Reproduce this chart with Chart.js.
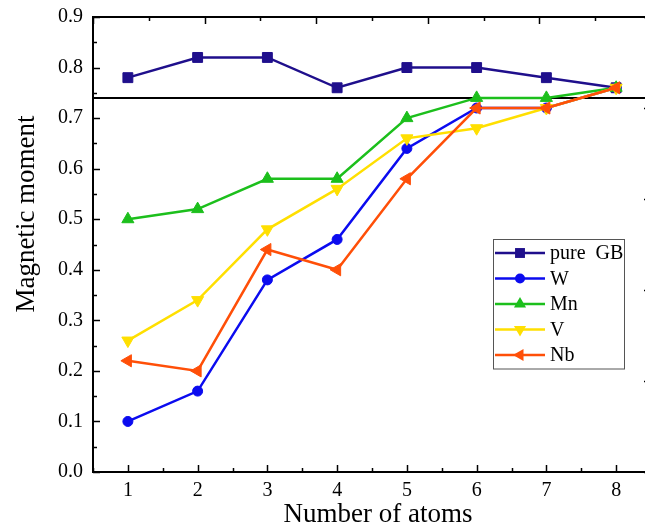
<!DOCTYPE html>
<html>
<head>
<meta charset="utf-8">
<script src="https://cdn.jsdelivr.net/npm/chart.js@4"></script>
<style>
  html, body { margin: 0; padding: 0; background: #fff; overflow: hidden; }
  #chart { display: block; }
</style>
</head>
<body>
<canvas id="chart" width="659" height="527"></canvas>
<script>
// Number of atoms on the x axis
const atoms = [1, 2, 3, 4, 5, 6, 7, 8];

// Magnetic moment for each system
const pureGB = [0.78, 0.82, 0.82, 0.76, 0.80, 0.80, 0.78, 0.76];
const W      = [0.10, 0.16, 0.38, 0.46, 0.64, 0.72, 0.72, 0.76];
const Mn     = [0.50, 0.52, 0.58, 0.58, 0.70, 0.74, 0.74, 0.76];
const V      = [0.26, 0.34, 0.48, 0.56, 0.66, 0.68, 0.72, 0.76];
const Nb     = [0.22, 0.20, 0.44, 0.40, 0.58, 0.72, 0.72, 0.76];

// Horizontal reference level
const refLevel = 0.74;

const yTicks = [0.0, 0.1, 0.2, 0.3, 0.4, 0.5, 0.6, 0.7, 0.8, 0.9];

const xTitle = 'Number of atoms';
const yTitle = 'Magnetic moment';

function toPoints(values) {
    return values.map((v, i) => ({ x: atoms[i], y: v }));
}

function series(label, values, color, style, rotation, radius, order) {
    return {
        label: label,
        data: toPoints(values),
        borderColor: color,
        backgroundColor: color,
        borderWidth: 2.5,
        pointStyle: style,
        rotation: rotation,
        pointRadius: radius,
        pointHoverRadius: radius,
        pointBorderWidth: 1,
        order: order
    };
}

const datasets = [
    series('pure  GB', pureGB, '#1f0f8c', 'rect', 0, 7, 5),
    series('W', W, '#0b0bef', 'circle', 0, 5, 4),
    series('Mn', Mn, '#1cbf1c', 'triangle', 0, 7, 3),
    series('V', V, '#ffdf00', 'triangle', 180, 7, 2),
    series('Nb', Nb, '#ff4f08', 'triangle', 270, 7, 1),
    {
        label: 'ref',
        data: [{ x: 0.5, y: refLevel }, { x: 8.5, y: refLevel }],
        borderColor: '#000',
        borderWidth: 2,
        pointRadius: 0,
        order: 6,
        hideInLegend: true
    }
];

const serif = "'Liberation Serif', 'Times New Roman', serif";

// Inward tick marks on all four sides (major = long, minor = short)
const inwardTicks = {
    id: 'inwardTicks',
    afterDraw(chart) {
        const ctx = chart.ctx;
        const area = chart.chartArea;
        ctx.save();
        ctx.strokeStyle = '#000';
        ctx.lineWidth = 1.5;
        Object.values(chart.scales).forEach(scale => {
            const major = scale.options.majorStep;
            scale.ticks.forEach(t => {
                const isMajor = Math.abs(t.value / major - Math.round(t.value / major)) < 1e-6;
                const len = isMajor ? 7 : 4;
                const p = Math.round(scale.getPixelForValue(t.value)) + 0.5;
                ctx.beginPath();
                if (scale.position === 'bottom') {
                    ctx.moveTo(p, area.bottom); ctx.lineTo(p, area.bottom - len);
                } else if (scale.position === 'top') {
                    ctx.moveTo(p, area.top); ctx.lineTo(p, area.top + len);
                } else if (scale.position === 'left') {
                    ctx.moveTo(area.left, p); ctx.lineTo(area.left + len, p);
                } else {
                    ctx.moveTo(area.right, p); ctx.lineTo(area.right - len, p);
                }
                ctx.stroke();
            });
        });
        ctx.restore();
    }
};

// Axis titles, placed a little off-centre like the original plot
const axisTitles = {
    id: 'axisTitles',
    afterDraw(chart) {
        const ctx = chart.ctx;
        ctx.save();
        ctx.fillStyle = '#000';
        ctx.font = '27px ' + serif;
        ctx.textAlign = 'center';
        ctx.textBaseline = 'alphabetic';
        ctx.fillText(xTitle, 378, 522);
        ctx.translate(34, 214);
        ctx.rotate(-Math.PI / 2);
        ctx.fillText(yTitle, 0, 0);
        ctx.restore();
    }
};

// Boxed legend inside the plot
const boxLegend = {
    id: 'boxLegend',
    afterDraw(chart) {
        const ctx = chart.ctx;
        const items = chart.data.datasets.filter(d => !d.hideInLegend);
        const left = 493, top = 239, w = 131, rowH = 25.5;
        const h = items.length * rowH + 2;
        ctx.save();
        ctx.fillStyle = '#fff';
        ctx.fillRect(left, top, w, h);
        ctx.strokeStyle = '#555';
        ctx.lineWidth = 1;
        ctx.strokeRect(left + 0.5, top + 0.5, w, h);
        items.forEach((d, i) => {
            const y = top + 14 + i * rowH;
            ctx.strokeStyle = d.borderColor;
            ctx.lineWidth = 2.5;
            ctx.beginPath();
            ctx.moveTo(left + 2, y);
            ctx.lineTo(left + 52, y);
            ctx.stroke();
            drawMarker(ctx, d, left + 27, y);
            ctx.fillStyle = '#000';
            ctx.font = '20px ' + serif;
            ctx.textBaseline = 'middle';
            ctx.fillText(d.label, left + 57, y + 1);
        });
        ctx.restore();
    }
};

function drawMarker(ctx, d, x, y) {
    const r = d.pointRadius;
    ctx.save();
    ctx.fillStyle = d.backgroundColor;
    ctx.translate(x, y);
    ctx.rotate(d.rotation * Math.PI / 180);
    ctx.beginPath();
    if (d.pointStyle === 'rect') {
        const s = r * Math.SQRT1_2;
        ctx.rect(-s, -s, 2 * s, 2 * s);
    } else if (d.pointStyle === 'circle') {
        ctx.arc(0, 0, r, 0, Math.PI * 2);
    } else {
        ctx.moveTo(0, -r);
        ctx.lineTo(r * Math.cos(Math.PI / 6), r / 2);
        ctx.lineTo(-r * Math.cos(Math.PI / 6), r / 2);
        ctx.closePath();
    }
    ctx.fill();
    ctx.restore();
}

new Chart(document.getElementById('chart'), {
    type: 'line',
    data: { datasets: datasets },
    options: {
        responsive: false,
        animation: false,
        events: [],
        layout: { padding: { top: 17, right: 5, left: 0, bottom: 0 } },
        plugins: {
            legend: { display: false },
            tooltip: { enabled: false }
        },
        scales: {
            x: {
                type: 'linear',
                position: 'bottom',
                min: 0.5,
                max: 8.5,
                majorStep: 1,
                afterFit: s => { s.height = 55; },
                grid: { display: false, drawTicks: false },
                border: { display: true, color: '#000', width: 2 },
                ticks: {
                    stepSize: 0.5,
                    autoSkip: false,
                    padding: 7,
                    color: '#000',
                    font: { family: serif, size: 20 },
                    callback: v => Number.isInteger(v) ? String(v) : ''
                }
            },
            y: {
                position: 'left',
                min: 0,
                max: 0.9,
                majorStep: 0.1,
                afterFit: s => {
                    s.width = 93;
                    s.paddingTop = 0;
                    s.paddingBottom = 0;
                },
                afterBuildTicks: s => {
                    const all = [];
                    for (let i = 0; i <= 18; i++) all.push({ value: i * 0.05 });
                    s.ticks = all;
                },
                grid: { display: false, drawTicks: false },
                border: { display: true, color: '#000', width: 2 },
                ticks: {
                    autoSkip: false,
                    padding: 10,
                    color: '#000',
                    font: { family: serif, size: 20 },
                    callback: v => {
                        const k = Math.round(v * 20);
                        return k % 2 === 0 ? yTicks[k / 2].toFixed(1) : '';
                    }
                }
            },
            x2: {
                type: 'linear',
                position: 'top',
                min: 0,
                max: 5,
                majorStep: 1,
                afterFit: s => { s.height = 0; },
                grid: { display: false, drawTicks: false },
                border: { display: true, color: '#000', width: 2 },
                ticks: { display: false, stepSize: 0.5, autoSkip: false }
            },
            y2: {
                position: 'right',
                min: 0,
                max: 5,
                majorStep: 1,
                afterFit: s => { s.width = 0; },
                grid: { display: false, drawTicks: false },
                border: { display: true, color: '#000', width: 2 },
                ticks: { display: false, stepSize: 0.5, autoSkip: false }
            }
        }
    },
    plugins: [inwardTicks, axisTitles, boxLegend]
});
</script>
</body>
</html>
